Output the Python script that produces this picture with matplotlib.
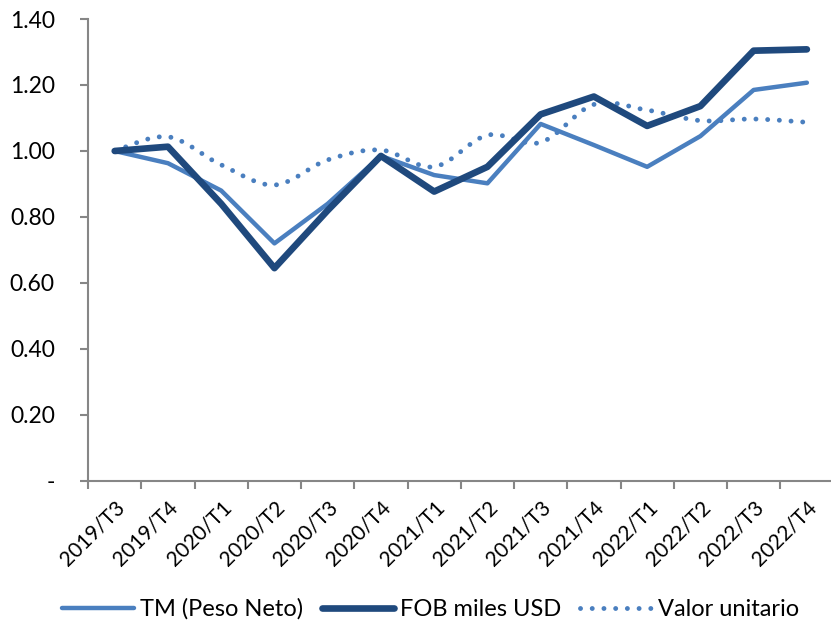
import numpy as np
import matplotlib
matplotlib.use("Agg")
import matplotlib.pyplot as plt
from matplotlib.path import Path
from matplotlib.patches import PathPatch
from matplotlib.lines import Line2D

periodos = ["2019/T3", "2019/T4", "2020/T1", "2020/T2", "2020/T3", "2020/T4",
            "2021/T1", "2021/T2", "2021/T3", "2021/T4", "2022/T1", "2022/T2",
            "2022/T3", "2022/T4"]
tm_peso_neto = [1.00, 0.963, 0.880, 0.720, 0.840, 0.985, 0.927, 0.902,
                1.082, 1.018, 0.952, 1.045, 1.185, 1.207]
fob_miles_usd = [1.00, 1.013, 0.840, 0.645, 0.820, 0.985, 0.877, 0.952,
                 1.111, 1.165, 1.076, 1.136, 1.304, 1.308]
valor_unitario = [1.00, 1.043, 0.958, 0.897, 0.973, 1.003, 0.952, 1.048,
                  1.026, 1.141, 1.124, 1.092, 1.097, 1.087]
yticks = [0.0, 0.2, 0.4, 0.6, 0.8, 1.0, 1.2, 1.4]

c_claro = "#4a7fbf"
c_oscuro = "#1f497d"
gris = "#868686"

plt.rcParams["font.family"] = ["Lato", "DejaVu Sans"]


def suavizado(xs, ys):
    # curva tipo Excel: bezier con puntos de control tipo Catmull-Rom
    pts = np.column_stack([xs, ys])
    n = len(pts)
    verts = [pts[0]]
    codes = [Path.MOVETO]
    for i in range(n - 1):
        p0 = pts[max(i - 1, 0)]
        p1 = pts[i]
        p2 = pts[i + 1]
        p3 = pts[min(i + 2, n - 1)]
        verts += [p1 + (p2 - p0) / 6, p2 - (p3 - p1) / 6, p2]
        codes += [Path.CURVE4] * 3
    return Path(verts, codes)


def main():
    fig = plt.figure(figsize=(8.31, 6.23), dpi=100)
    ax = fig.add_axes([0.106, 0.228, 0.897, 0.7415])

    x = np.arange(len(periodos))
    ax.plot(x, tm_peso_neto, color=c_claro, lw=3.2,
            solid_capstyle="round", solid_joinstyle="round")
    ax.plot(x, fob_miles_usd, color=c_oscuro, lw=4.8,
            solid_capstyle="round", solid_joinstyle="round")
    dots = (0, (0.01, 2.4))
    patch = PathPatch(suavizado(x, valor_unitario), fill=False,
                      edgecolor=c_claro, lw=3.5, linestyle=dots)
    patch.set_capstyle("round")
    ax.add_patch(patch)

    ax.set_xlim(-0.5, len(periodos) - 0.5)
    ax.set_ylim(0, 1.4)
    ax.set_yticks(yticks)
    ax.set_yticklabels(["-" if v == 0 else "{:.2f}".format(v) for v in yticks])
    ax.set_xticks(x)
    ax.set_xticklabels(periodos, rotation=45, ha="right", rotation_mode="anchor")
    ax.set_xticks(np.arange(len(periodos) + 1) - 0.5, minor=True)

    for s in ["top", "right"]:
        ax.spines[s].set_visible(False)
    for s in ["left", "bottom"]:
        ax.spines[s].set_color(gris)
        ax.spines[s].set_linewidth(1.5)

    ax.tick_params(axis="y", length=6, width=1.5, color=gris, labelsize=16.5,
                   pad=18)
    ax.tick_params(axis="x", which="major", length=0, labelsize=15, pad=12)
    ax.tick_params(axis="x", which="minor", length=6, width=1.5, color=gris)

    handles = [
        Line2D([], [], color=c_claro, lw=3.2, solid_capstyle="round"),
        Line2D([], [], color=c_oscuro, lw=4.8, solid_capstyle="round"),
        Line2D([], [], color=c_claro, lw=3.5, linestyle=dots,
               dash_capstyle="round"),
    ]
    labels = ["TM (Peso Neto)", "FOB miles USD", "Valor unitario"]
    fig.legend(handles, labels, loc="center", bbox_to_anchor=(0.518, 0.022),
               ncol=3, frameon=False, fontsize=17, handlelength=3.05,
               handletextpad=0.25, columnspacing=0.8)

    fig.savefig("out.png", dpi=100)


if __name__ == "__main__":
    main()
